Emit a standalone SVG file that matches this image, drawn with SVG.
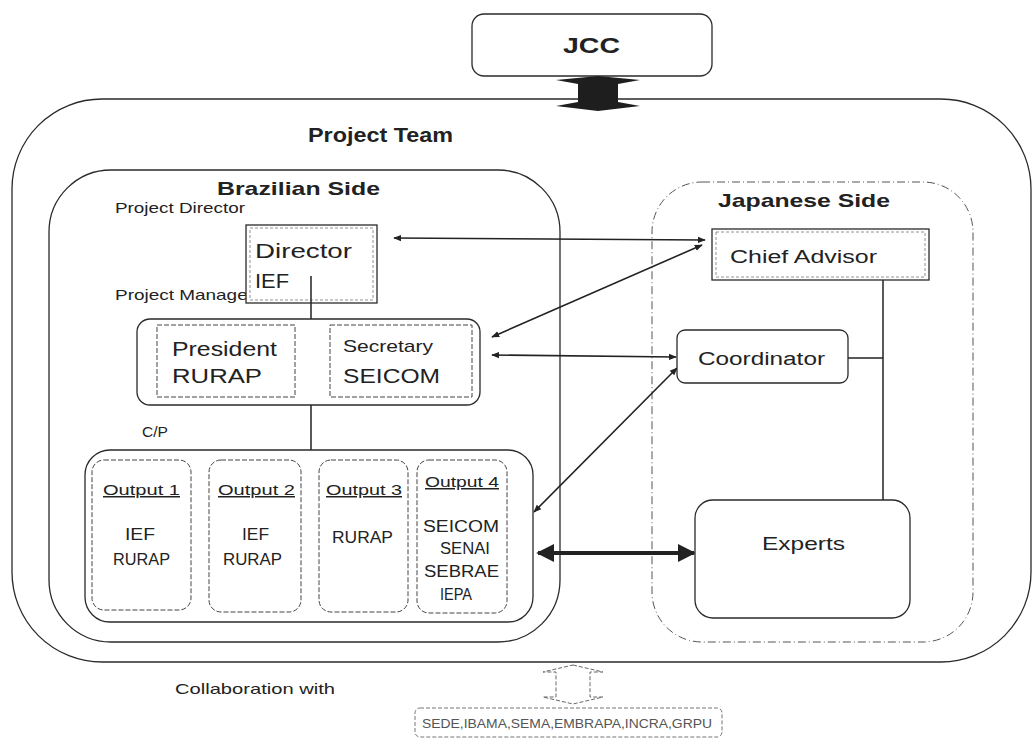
<svg xmlns="http://www.w3.org/2000/svg" width="1034" height="749" viewBox="0 0 1034 749">
<style>
text{font-family:"Liberation Sans",Arial,sans-serif;fill:#222}
.b{font-weight:bold}
.box{fill:none;stroke:#2a2a2a;stroke-width:1.3}
.wbox{fill:#fff;stroke:#2a2a2a;stroke-width:1.3}
.dash{fill:#fff;stroke:#444;stroke-width:1;stroke-dasharray:5 2}
.jp{fill:none;stroke:#555;stroke-width:1;stroke-dasharray:8 3 1 3}
.ln{stroke:#222;stroke-width:1.5;fill:none}
.arr{stroke:#222;stroke-width:1.6;fill:none;marker-start:url(#ah);marker-end:url(#ah)}
.thick{stroke:#222;stroke-width:4;fill:none;marker-start:url(#bh);marker-end:url(#bh)}
.u{text-decoration:underline}
</style>
<defs>
<marker id="ah" viewBox="0 0 10 10" refX="9" refY="5" markerWidth="8" markerHeight="8" orient="auto-start-reverse" markerUnits="userSpaceOnUse">
<path d="M0,1 L10,5 L0,9 z" fill="#222"/>
</marker>
<marker id="bh" viewBox="0 0 10 10" refX="9" refY="5" markerWidth="18" markerHeight="18" orient="auto-start-reverse" markerUnits="userSpaceOnUse">
<path d="M0,0 L10,5 L0,10 z" fill="#222"/>
</marker>
</defs>

<g id="jcc">
<rect class="box" x="472" y="14" width="240" height="62" rx="12"/>
<text x="563" y="53" font-size="22" font-weight="600" textLength="57" lengthAdjust="spacingAndGlyphs">JCC</text>
</g>

<g id="project-team">
<rect class="box" x="12" y="99" width="1019" height="563" rx="90"/>
<text class="b" x="308" y="142" font-size="21" textLength="145" lengthAdjust="spacingAndGlyphs">Project Team</text>
</g>

<g id="brazilian-side">
<rect class="box" x="49" y="170" width="511" height="472" rx="62"/>
<text class="b" x="217" y="195" font-size="19" textLength="163" lengthAdjust="spacingAndGlyphs">Brazilian Side</text>
<text x="115" y="213" font-size="15" textLength="130" lengthAdjust="spacingAndGlyphs">Project Director</text>
<text x="115" y="300" font-size="15" textLength="139" lengthAdjust="spacingAndGlyphs">Project Manager</text>
<text x="142" y="437" font-size="15" textLength="26" lengthAdjust="spacingAndGlyphs">C/P</text>
</g>

<g id="japanese-side">
<rect class="jp" x="652" y="182" width="321" height="460" rx="50"/>
<text class="b" x="718" y="207" font-size="19" textLength="172" lengthAdjust="spacingAndGlyphs">Japanese Side</text>
</g>

<g id="connectors">
<polygon points="598,76 640,80 618,84 618,102 640,106 598,111 556,106 578,102 578,84 556,80" fill="#1e1e1e"/>
<line class="ln" x1="311" y1="276" x2="311" y2="319"/>
<line class="ln" x1="311" y1="405" x2="311" y2="450"/>
<line class="ln" x1="883" y1="280" x2="883" y2="500"/>
<line class="ln" x1="848" y1="358" x2="883" y2="358"/>
<line class="arr" x1="394" y1="238" x2="705" y2="240"/>
<line class="arr" x1="702" y1="245" x2="492" y2="337"/>
<line class="arr" x1="492" y1="355" x2="676" y2="357"/>
<line class="arr" x1="677" y1="368" x2="534" y2="512"/>
<line class="thick" x1="538" y1="553" x2="694" y2="553"/>
<polygon points="573,665 603,672 590,672 590,697 603,697 573,704 543,697 556,697 556,672 543,672" fill="none" stroke="#666" stroke-width="1" stroke-dasharray="4 2"/>
</g>

<g id="director">
<rect class="wbox" x="246" y="225" width="131" height="78"/>
<rect fill="none" stroke="#777" stroke-width="0.8" stroke-dasharray="3 2" x="250" y="228" width="123" height="72"/>
<text x="255" y="258" font-size="20" textLength="97" lengthAdjust="spacingAndGlyphs">Director</text>
<text x="255" y="288" font-size="20" textLength="34" lengthAdjust="spacingAndGlyphs">IEF</text>
<line class="ln" x1="311" y1="276" x2="311" y2="303"/>
</g>

<g id="project-manager">
<rect class="wbox" x="137" y="319" width="343" height="86" rx="13"/>
<rect class="dash" x="157" y="325" width="138" height="72"/>
<text x="172" y="356" font-size="20" textLength="105" lengthAdjust="spacingAndGlyphs">President</text>
<text x="172" y="383" font-size="20" textLength="90" lengthAdjust="spacingAndGlyphs">RURAP</text>
<rect class="dash" x="330" y="325" width="142" height="72"/>
<text x="343" y="352" font-size="17" textLength="90" lengthAdjust="spacingAndGlyphs">Secretary</text>
<text x="343" y="383" font-size="20" textLength="97" lengthAdjust="spacingAndGlyphs">SEICOM</text>
</g>

<g id="cp">
<rect class="wbox" x="85" y="450" width="448" height="172" rx="25"/>
</g>

<g id="output1">
<rect class="dash" x="92" y="460" width="99" height="150" rx="12"/>
<text class="u" x="103" y="495" font-size="15" textLength="77" lengthAdjust="spacingAndGlyphs">Output 1</text>
<text x="125" y="540" font-size="16" textLength="30" lengthAdjust="spacingAndGlyphs">IEF</text>
<text x="113" y="565" font-size="16" textLength="57" lengthAdjust="spacingAndGlyphs">RURAP</text>
</g>

<g id="output2">
<rect class="dash" x="209" y="460" width="92" height="152" rx="12"/>
<text class="u" x="218" y="495" font-size="15" textLength="77" lengthAdjust="spacingAndGlyphs">Output 2</text>
<text x="242" y="540" font-size="16" textLength="27" lengthAdjust="spacingAndGlyphs">IEF</text>
<text x="223" y="565" font-size="16" textLength="59" lengthAdjust="spacingAndGlyphs">RURAP</text>
</g>

<g id="output3">
<rect class="dash" x="319" y="460" width="89" height="152" rx="12"/>
<text class="u" x="326" y="495" font-size="15" textLength="76" lengthAdjust="spacingAndGlyphs">Output 3</text>
<text x="332" y="543" font-size="16" textLength="61" lengthAdjust="spacingAndGlyphs">RURAP</text>
</g>

<g id="output4">
<rect class="dash" x="417" y="460" width="90" height="153" rx="12"/>
<text class="u" x="425" y="487" font-size="15" textLength="74" lengthAdjust="spacingAndGlyphs">Output 4</text>
<text x="423" y="532" font-size="16" textLength="76" lengthAdjust="spacingAndGlyphs">SEICOM</text>
<text x="440" y="554" font-size="16" textLength="50" lengthAdjust="spacingAndGlyphs">SENAI</text>
<text x="424" y="577" font-size="16" textLength="75" lengthAdjust="spacingAndGlyphs">SEBRAE</text>
<text x="440" y="600" font-size="16" textLength="32" lengthAdjust="spacingAndGlyphs">IEPA</text>
</g>

<g id="chief-advisor">
<rect class="wbox" x="712" y="229" width="217" height="51"/>
<rect fill="none" stroke="#777" stroke-width="0.8" stroke-dasharray="3 2" x="716" y="232" width="209" height="45"/>
<text x="730" y="263" font-size="18" textLength="147" lengthAdjust="spacingAndGlyphs">Chief Advisor</text>
</g>

<g id="coordinator">
<rect class="wbox" x="677" y="330" width="171" height="53" rx="8"/>
<text x="698" y="365" font-size="18" textLength="127" lengthAdjust="spacingAndGlyphs">Coordinator</text>
</g>

<g id="experts">
<rect class="wbox" x="695" y="500" width="215" height="118" rx="18"/>
<text x="762" y="550" font-size="19" textLength="83" lengthAdjust="spacingAndGlyphs">Experts</text>
</g>

<g id="collaboration">
<text x="175" y="694" font-size="15" textLength="160" lengthAdjust="spacingAndGlyphs">Collaboration with</text>
<rect fill="none" stroke="#777" stroke-width="1" stroke-dasharray="4 2" x="415" y="708" width="307" height="29" rx="5"/>
<text x="422" y="728" font-size="13" style="fill:#555" textLength="290" lengthAdjust="spacingAndGlyphs">SEDE,IBAMA,SEMA,EMBRAPA,INCRA,GRPU</text>
</g>
</svg>
